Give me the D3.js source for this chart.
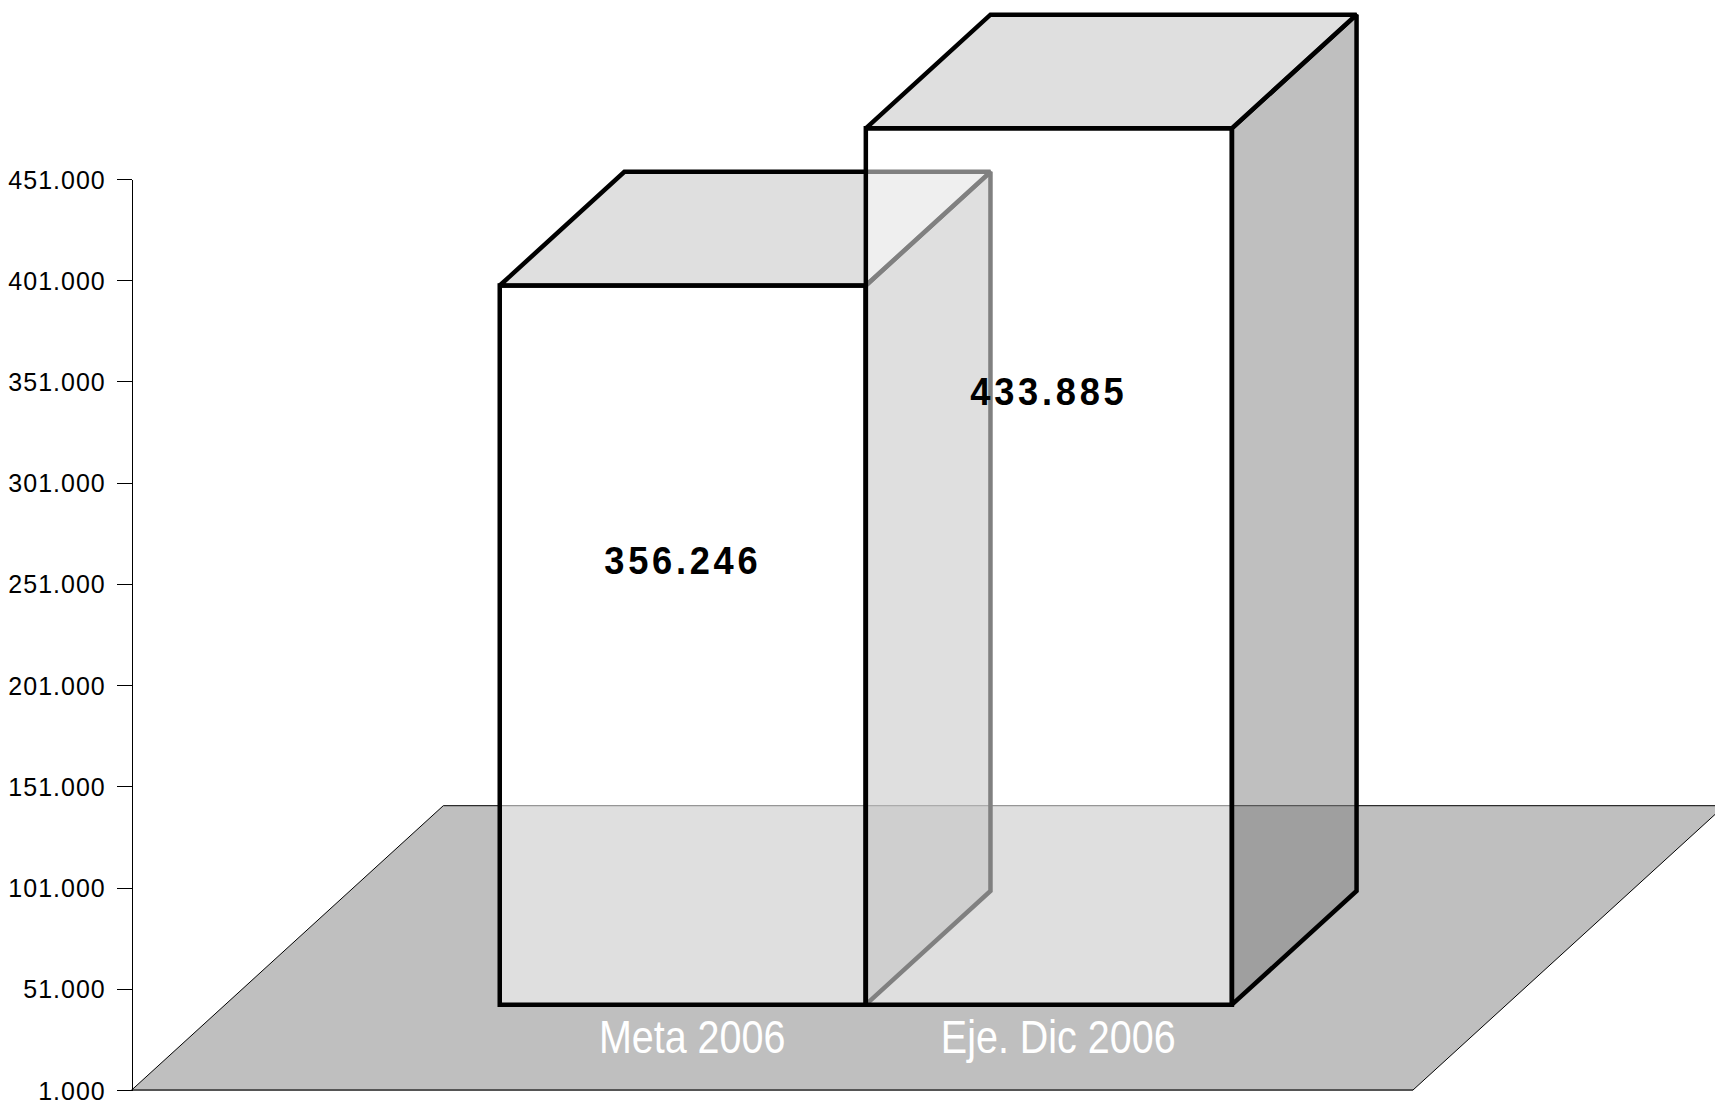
<!DOCTYPE html>
<meta charset="utf-8">
<script src="https://d3js.org/d3.v7.min.js"></script>
<style type="text/css">
    body {
        margin: 0;
        background: #fff;
    }

    .axis path,
    .axis line {
        fill: none;
        stroke: #000;
        stroke-width: 1px;
        shape-rendering: crispEdges;
    }

    .axis text {
        font-family: "Liberation Sans", Arial, sans-serif;
        font-size: 25px;
        fill: #000;
        letter-spacing: 1px;
    }

    .value {
        font-family: "Liberation Sans", Arial, sans-serif;
        font-weight: bold;
        font-size: 39px;
        letter-spacing: 4px;
    }

    .cat {
        font-family: "Liberation Sans", Arial, sans-serif;
        font-size: 47px;
        fill: #fff;
    }
</style>
<body>
<script>
    // data
    var series = ["Meta 2006", "Eje. Dic 2006"];
    var values = [356246, 433885];
    var tickValues = [1000, 51000, 101000, 151000, 201000, 251000, 301000, 351000, 401000, 451000];

    var width = 1715, height = 1101;

    // floor front edge and the depth direction of the 3d box
    var floorLeft = 131.7, floorRight = 1413,
        depth = {x: 311.6, y: -284.3},
        zFront = 0.3, zBack = 0.7,
        base = 1000;

    var yScale = d3.scaleLinear().domain([1000, 451000]).range([1090, 179]);

    var xScale = d3.scaleBand()
        .domain(series)
        .range([floorLeft, floorRight])
        .paddingInner(0)
        .paddingOuter(0.75);

    // category labels sit on the floor just in front of the bars
    var labelDepth = 0.33;

    var fmt = d3.formatLocale({decimal: ",", thousands: ".", grouping: [3], currency: ["", ""]}).format(",");

    function proj(x, v, z) {
        return [x + z * depth.x, yScale(v) + z * depth.y];
    }

    var svg = d3.select("body")
        .append("svg")
        .attr("width", width)
        .attr("height", height);

    // floor
    svg.append("polygon")
        .attr("points", [proj(floorLeft, base, 0), proj(floorRight, base, 0),
            proj(floorRight, base, 1), proj(floorLeft, base, 1)].join(" "))
        .style("fill", "#bfbfbf")
        .style("stroke", "#000")
        .style("stroke-width", 1);

    svg.append("line")
        .attr("x1", proj(floorLeft, base, 0)[0])
        .attr("y1", proj(floorLeft, base, 0)[1])
        .attr("x2", proj(floorRight, base, 0)[0])
        .attr("y2", proj(floorRight, base, 0)[1])
        .style("stroke", "#555")
        .style("stroke-width", 2);

    // category labels
    svg.selectAll(".cat")
        .data(series)
        .enter()
        .append("text")
        .attr("class", "cat")
        .attr("text-anchor", "middle")
        .attr("transform", function(d) {
            var x = xScale(d) + xScale.bandwidth() / 2 + labelDepth * depth.x;
            return "translate(" + x + ",1053) scale(0.84,1)";
        })
        .text(function(d) { return d; });

    // bars, drawn in order so the second one covers the first one's side
    var bw = xScale.bandwidth();
    series.forEach(function(s, i) {
        var v = values[i],
            x0 = xScale(s),
            x1 = x0 + bw;
        var g = svg.append("g").attr("class", "bar");

        var faces = [
            {pts: [proj(x0, base, zFront), proj(x1, base, zFront), proj(x1, v, zFront), proj(x0, v, zFront)], fill: "#fff"},
            {pts: [proj(x1, base, zFront), proj(x1, base, zBack), proj(x1, v, zBack), proj(x1, v, zFront)], fill: "#808080"},
            {pts: [proj(x0, v, zFront), proj(x1, v, zFront), proj(x1, v, zBack), proj(x0, v, zBack)], fill: "#c0c0c0"}
        ];

        g.selectAll("polygon")
            .data(faces)
            .enter()
            .append("polygon")
            .attr("points", function(d) { return d.pts.join(" "); })
            .style("fill", function(d) { return d.fill; })
            .style("fill-opacity", 0.5)
            .style("stroke", "#000")
            .style("stroke-width", 4.5)
            .style("stroke-linejoin", "miter")
            .style("stroke-miterlimit", 2);
    });

    // value labels
    svg.selectAll(".value")
        .data(values)
        .enter()
        .append("text")
        .attr("class", "value")
        .attr("text-anchor", "middle")
        .attr("transform", function(d, i) {
            var x = xScale(series[i]) + bw / 2 + zFront * depth.x,
                y = yScale(d) * 1.08 + 174;
            return "translate(" + x + "," + y + ") scale(0.93,1)";
        })
        .text(function(d) { return fmt(d); });

    // value axis
    svg.append("g")
        .attr("class", "axis")
        .attr("transform", "translate(" + floorLeft + ",0)")
        .call(d3.axisLeft(yScale)
            .tickValues(tickValues)
            .tickSize(15)
            .tickSizeOuter(0)
            .tickPadding(11)
            .tickFormat(fmt));

    svg.select(".axis").selectAll("text").attr("dy", "0.36em");
</script>
</body>
